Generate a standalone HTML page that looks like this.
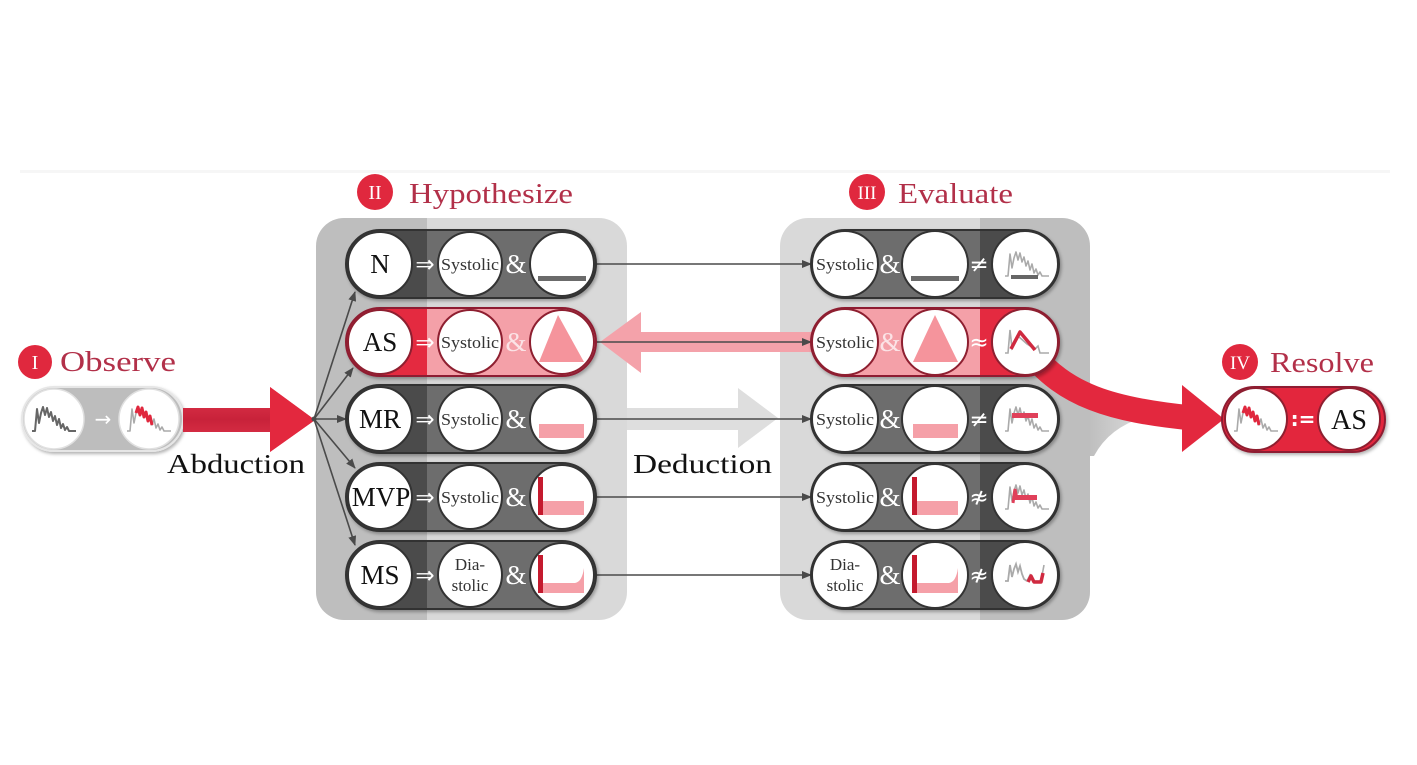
<!DOCTYPE html>
<html><head><meta charset="utf-8">
<style>
html,body{margin:0;padding:0;background:#fff;}
svg{display:block}
text{font-family:"Liberation Serif","DejaVu Serif",serif;}
.sym{font-family:"DejaVu Sans","Liberation Sans",sans-serif;}
</style></head><body>
<svg width="1417" height="765" viewBox="0 0 1417 765" xmlns="http://www.w3.org/2000/svg">
<defs>
<linearGradient id="panII" gradientUnits="userSpaceOnUse" x1="0" y1="0" x2="1417" y2="0">
<stop offset="0" stop-color="#bebebe"/><stop offset="0.3013" stop-color="#bebebe"/><stop offset="0.3013" stop-color="#d9d9d9"/><stop offset="1" stop-color="#d9d9d9"/>
</linearGradient>
<linearGradient id="pillII" gradientUnits="userSpaceOnUse" x1="0" y1="0" x2="1417" y2="0">
<stop offset="0" stop-color="#4b4b4b"/><stop offset="0.3013" stop-color="#4b4b4b"/><stop offset="0.3013" stop-color="#6d6d6d"/><stop offset="1" stop-color="#6d6d6d"/>
</linearGradient>
<linearGradient id="pillIIas" gradientUnits="userSpaceOnUse" x1="0" y1="0" x2="1417" y2="0">
<stop offset="0" stop-color="#e42a40"/><stop offset="0.3013" stop-color="#e42a40"/><stop offset="0.3013" stop-color="#f4a0a8"/><stop offset="1" stop-color="#f4a0a8"/>
</linearGradient>
<linearGradient id="panIII" gradientUnits="userSpaceOnUse" x1="0" y1="0" x2="1417" y2="0">
<stop offset="0" stop-color="#d9d9d9"/><stop offset="0.6916" stop-color="#d9d9d9"/><stop offset="0.6916" stop-color="#bebebe"/><stop offset="1" stop-color="#bebebe"/>
</linearGradient>
<linearGradient id="pillIII" gradientUnits="userSpaceOnUse" x1="0" y1="0" x2="1417" y2="0">
<stop offset="0" stop-color="#6d6d6d"/><stop offset="0.6916" stop-color="#6d6d6d"/><stop offset="0.6916" stop-color="#4b4b4b"/><stop offset="1" stop-color="#4b4b4b"/>
</linearGradient>
<linearGradient id="pillIIIas" gradientUnits="userSpaceOnUse" x1="0" y1="0" x2="1417" y2="0">
<stop offset="0" stop-color="#f4a0a8"/><stop offset="0.6916" stop-color="#f4a0a8"/><stop offset="0.6916" stop-color="#e42a40"/><stop offset="1" stop-color="#e42a40"/>
</linearGradient>
<linearGradient id="abd" x1="0" y1="0" x2="0" y2="1">
<stop offset="0" stop-color="#e6394e"/><stop offset="0.5" stop-color="#c8223a"/><stop offset="1" stop-color="#e6394e"/>
</linearGradient>
<linearGradient id="wedge" gradientUnits="userSpaceOnUse" x1="1088" y1="0" x2="1165" y2="0">
<stop offset="0" stop-color="#bebebe"/><stop offset="0.5" stop-color="#d2d2d2"/><stop offset="1" stop-color="#ffffff"/>
</linearGradient>
<filter id="sh" x="-10%" y="-20%" width="130%" height="150%">
<feDropShadow dx="1.5" dy="2" stdDeviation="1.5" flood-color="#000" flood-opacity="0.3"/>
</filter>
<marker id="m" markerWidth="10" markerHeight="8" refX="9" refY="4" orient="auto" markerUnits="userSpaceOnUse">
<path d="M0,0 L10,4 L0,8 z" fill="#4a4a4a"/>
</marker>
<path id="wave" d="M-22,12 L-19,12 L-17,-10 L-15,4 L-13,-6 L-11,-12 L-9,-4 L-7,-11 L-5,-2 L-3,-7 L-1,2 L1,-3 L3,6 L5,0 L7,9 L9,5 L11,11 L13,8 L15,12 L22,12" fill="none" stroke-linejoin="round"/>
<path id="redmid" d="M-13,-6 L-11,-12 L-9,-4 L-7,-11 L-5,-2 L-3,-7 L-1,2 L1,-3 L3,6" fill="none" stroke-linejoin="round"/>
</defs>

<!-- faint top band -->
<rect x="20" y="170" width="1370" height="3" fill="#f6f6f6"/>

<!-- Panels -->
<rect x="316" y="218" width="311" height="402" rx="28" fill="url(#panII)"/>
<path d="M1086,382 L1158,414 Q1112,422 1094,456 L1086,456 Z" fill="url(#wedge)"/>
<rect x="780" y="218" width="310" height="402" rx="28" fill="url(#panIII)"/>

<!-- Deduction arrow -->
<polygon points="627,408 738,408 738,388 778,418 738,448 738,430 627,430" fill="#dedede"/>

<!-- Pink back arrow -->
<polygon points="600,342 641,312 641,332 812,332 812,352 641,352 641,373" fill="#f4a2aa"/>

<!-- Headers -->
<circle cx="35" cy="362" r="17" fill="#e0283e"/>
<text x="35" y="369" font-size="20" fill="#fff" text-anchor="middle">I</text>
<text x="60" y="371" font-size="28" fill="#b23049" textLength="116" lengthAdjust="spacingAndGlyphs">Observe</text>

<circle cx="375" cy="192" r="18" fill="#e0283e"/>
<text x="375" y="199" font-size="20" fill="#fff" text-anchor="middle">II</text>
<text x="409" y="203" font-size="28" fill="#b23049" textLength="164" lengthAdjust="spacingAndGlyphs">Hypothesize</text>

<circle cx="867" cy="192" r="18" fill="#e0283e"/>
<text x="867" y="199" font-size="19" fill="#fff" text-anchor="middle">III</text>
<text x="898" y="203" font-size="28" fill="#b23049" textLength="115" lengthAdjust="spacingAndGlyphs">Evaluate</text>

<circle cx="1240" cy="362" r="18" fill="#e0283e"/>
<text x="1240" y="369" font-size="19" fill="#fff" text-anchor="middle">IV</text>
<text x="1270" y="372" font-size="28" fill="#b23049" textLength="104" lengthAdjust="spacingAndGlyphs">Resolve</text>

<!-- Observe pill -->
<rect x="22" y="387" width="161" height="64" rx="32" fill="#bdbdbd" stroke="#e6e6e6" stroke-width="2" filter="url(#sh)"/>
<circle cx="54" cy="419" r="30" fill="#fff" stroke="#e0e0e0" stroke-width="1.5"/>
<circle cx="149" cy="419" r="30" fill="#fff" stroke="#e0e0e0" stroke-width="1.5"/>
<g transform="translate(54,419)"><use href="#wave" stroke="#666" stroke-width="2"/></g>
<g transform="translate(149,419)"><use href="#wave" stroke="#aaa" stroke-width="1.6"/><use href="#redmid" stroke="#e0283e" stroke-width="3"/></g>
<text x="103" y="426" font-size="20" fill="#fff" text-anchor="middle" class="sym">→</text>

<!-- Abduction arrow -->
<polygon points="183,408 270,408 270,387 315,420 270,452 270,432 183,432" fill="url(#abd)"/>
<polygon points="270,387 315,420 270,452" fill="#e3283e"/>
<text x="167" y="473" font-size="27" fill="#111" textLength="138" lengthAdjust="spacingAndGlyphs">Abduction</text>
<text x="633" y="473" font-size="27" fill="#111" textLength="139" lengthAdjust="spacingAndGlyphs">Deduction</text>

<!-- Fan arrows -->
<g stroke="#4a4a4a" stroke-width="1.6" fill="none" marker-end="url(#m)">
<line x1="314" y1="419" x2="355" y2="292"/>
<line x1="314" y1="419" x2="353" y2="368"/>
<line x1="314" y1="419" x2="346" y2="419"/>
<line x1="314" y1="419" x2="355" y2="468"/>
<line x1="314" y1="419" x2="355" y2="545"/>
</g>
<circle cx="314" cy="419" r="2.5" fill="#4a4a4a"/>

<!-- Connectors between panels -->
<g stroke="#4a4a4a" stroke-width="1.6" fill="none" marker-end="url(#m)">
<line x1="596" y1="264" x2="811" y2="264"/>
<line x1="596" y1="342" x2="811" y2="342"/>
<line x1="596" y1="419" x2="811" y2="419"/>
<line x1="596" y1="497" x2="811" y2="497"/>
<line x1="596" y1="575" x2="811" y2="575"/>
</g>

<!-- Curved red arrow (behind III pills) -->
<path d="M1030,352 C1065,395 1110,410 1192,418" fill="none" stroke="#e3283e" stroke-width="25"/>
<polygon points="1182,385 1224,419 1182,452" fill="#e3283e"/>

<!-- ===== Hypothesize rows ===== -->
<!-- N -->
<rect x="346" y="230" width="250" height="68" rx="34" fill="url(#pillII)" stroke="#333" stroke-width="2" filter="url(#sh)"/>
<circle cx="380" cy="264" r="32" fill="#fff" stroke="#333" stroke-width="2"/>
<circle cx="470" cy="264" r="32" fill="#fff" stroke="#333" stroke-width="2"/>
<circle cx="562" cy="264" r="32" fill="#fff" stroke="#333" stroke-width="2"/>
<text x="380" y="273" font-size="27" text-anchor="middle" fill="#111">N</text>
<text x="425" y="272" font-size="23" fill="#fff" text-anchor="middle" class="sym">⇒</text>
<text x="441" y="270" font-size="17" fill="#333" textLength="58" lengthAdjust="spacingAndGlyphs">Systolic</text>
<text x="516" y="273" font-size="27" fill="#fff" text-anchor="middle">&amp;</text>
<rect x="538" y="276" width="48" height="5" fill="#6b6b6b"/>

<!-- AS -->
<rect x="346" y="308" width="250" height="68" rx="34" fill="url(#pillIIas)" stroke="#8e1f30" stroke-width="2" filter="url(#sh)"/>
<circle cx="380" cy="342" r="32" fill="#fff" stroke="#8e1f30" stroke-width="2"/>
<circle cx="470" cy="342" r="32" fill="#fff" stroke="#8e1f30" stroke-width="2"/>
<circle cx="562" cy="342" r="32" fill="#fff" stroke="#8e1f30" stroke-width="2"/>
<text x="380" y="351" font-size="27" text-anchor="middle" fill="#111">AS</text>
<text x="425" y="350" font-size="23" fill="#fff" text-anchor="middle" class="sym">⇒</text>
<text x="441" y="348" font-size="17" fill="#333" textLength="58" lengthAdjust="spacingAndGlyphs">Systolic</text>
<text x="516" y="351" font-size="27" fill="#fbe3e6" text-anchor="middle">&amp;</text>
<polygon points="558,315 539,362 584,362" fill="#f5949c"/>

<!-- MR -->
<rect x="346" y="385" width="250" height="68" rx="34" fill="url(#pillII)" stroke="#333" stroke-width="2" filter="url(#sh)"/>
<circle cx="380" cy="419" r="32" fill="#fff" stroke="#333" stroke-width="2"/>
<circle cx="470" cy="419" r="32" fill="#fff" stroke="#333" stroke-width="2"/>
<circle cx="562" cy="419" r="32" fill="#fff" stroke="#333" stroke-width="2"/>
<text x="380" y="428" font-size="27" text-anchor="middle" fill="#111">MR</text>
<text x="425" y="427" font-size="23" fill="#fff" text-anchor="middle" class="sym">⇒</text>
<text x="441" y="425" font-size="17" fill="#333" textLength="58" lengthAdjust="spacingAndGlyphs">Systolic</text>
<text x="516" y="428" font-size="27" fill="#fff" text-anchor="middle">&amp;</text>
<rect x="539" y="424" width="45" height="14" fill="#f5a0a8"/>

<!-- MVP -->
<rect x="346" y="463" width="250" height="68" rx="34" fill="url(#pillII)" stroke="#333" stroke-width="2" filter="url(#sh)"/>
<circle cx="380" cy="497" r="32" fill="#fff" stroke="#333" stroke-width="2"/>
<circle cx="470" cy="497" r="32" fill="#fff" stroke="#333" stroke-width="2"/>
<circle cx="562" cy="497" r="32" fill="#fff" stroke="#333" stroke-width="2"/>
<text x="381" y="506" font-size="27" text-anchor="middle" fill="#111">MVP</text>
<text x="425" y="505" font-size="23" fill="#fff" text-anchor="middle" class="sym">⇒</text>
<text x="441" y="503" font-size="17" fill="#333" textLength="58" lengthAdjust="spacingAndGlyphs">Systolic</text>
<text x="516" y="506" font-size="27" fill="#fff" text-anchor="middle">&amp;</text>
<rect x="540" y="501" width="44" height="14" fill="#f5a0a8"/>
<rect x="538" y="477" width="5" height="38" fill="#c41a2e"/>

<!-- MS -->
<rect x="346" y="541" width="250" height="68" rx="34" fill="url(#pillII)" stroke="#333" stroke-width="2" filter="url(#sh)"/>
<circle cx="380" cy="575" r="32" fill="#fff" stroke="#333" stroke-width="2"/>
<circle cx="470" cy="575" r="32" fill="#fff" stroke="#333" stroke-width="2"/>
<circle cx="562" cy="575" r="32" fill="#fff" stroke="#333" stroke-width="2"/>
<text x="380" y="584" font-size="27" text-anchor="middle" fill="#111">MS</text>
<text x="425" y="583" font-size="23" fill="#fff" text-anchor="middle" class="sym">⇒</text>
<text x="470" y="570" font-size="17" fill="#333" text-anchor="middle">Dia-</text>
<text x="470" y="591" font-size="17" fill="#333" text-anchor="middle">stolic</text>
<text x="516" y="584" font-size="27" fill="#fff" text-anchor="middle">&amp;</text>
<path d="M540,583 L575,583 Q582,582 584,568 L584,593 L540,593 Z" fill="#f5a0a8"/>
<rect x="538" y="555" width="5" height="38" fill="#c41a2e"/>

<!-- ===== Evaluate rows ===== -->
<!-- N -->
<rect x="811" y="230" width="248" height="68" rx="34" fill="url(#pillIII)" stroke="#333" stroke-width="2" filter="url(#sh)"/>
<circle cx="845" cy="264" r="33" fill="#fff" stroke="#333" stroke-width="2"/>
<circle cx="935" cy="264" r="33" fill="#fff" stroke="#333" stroke-width="2"/>
<circle cx="1025" cy="264" r="33" fill="#fff" stroke="#333" stroke-width="2"/>
<text x="816" y="270" font-size="17" fill="#333" textLength="58" lengthAdjust="spacingAndGlyphs">Systolic</text>
<text x="890" y="273" font-size="27" fill="#fff" text-anchor="middle">&amp;</text>
<rect x="911" y="276" width="48" height="5" fill="#6b6b6b"/>
<text x="979" y="272" font-size="23" fill="#fff" text-anchor="middle" class="sym">≠</text>
<g transform="translate(1027,264)"><use href="#wave" stroke="#aaa" stroke-width="1.6"/><rect x="-16" y="11" width="27" height="4" fill="#666"/></g>

<!-- AS -->
<rect x="811" y="308" width="248" height="68" rx="34" fill="url(#pillIIIas)" stroke="#8e1f30" stroke-width="2" filter="url(#sh)"/>
<circle cx="845" cy="342" r="33" fill="#fff" stroke="#8e1f30" stroke-width="2"/>
<circle cx="935" cy="342" r="33" fill="#fff" stroke="#8e1f30" stroke-width="2"/>
<circle cx="1025" cy="342" r="33" fill="#fff" stroke="#8e1f30" stroke-width="2"/>
<text x="816" y="348" font-size="17" fill="#333" textLength="58" lengthAdjust="spacingAndGlyphs">Systolic</text>
<text x="890" y="351" font-size="27" fill="#fbe3e6" text-anchor="middle">&amp;</text>
<polygon points="935,315 913,362 958,362" fill="#f5949c"/>
<text x="979" y="350" font-size="23" fill="#fff" text-anchor="middle" class="sym">≈</text>
<g transform="translate(1027,342)">
<path d="M-22,11 L-19,11 L-17,-12 L-15,6 L-9,-6 L0,2 L8,7 L11,4 L13,11 L22,11" fill="none" stroke="#aaa" stroke-width="1.6"/>
<path d="M-16,7 L-7,-10 L8,8" fill="none" stroke="#cf2a40" stroke-width="3.5" stroke-linejoin="round"/>
</g>

<!-- MR -->
<rect x="811" y="385" width="248" height="68" rx="34" fill="url(#pillIII)" stroke="#333" stroke-width="2" filter="url(#sh)"/>
<circle cx="845" cy="419" r="33" fill="#fff" stroke="#333" stroke-width="2"/>
<circle cx="935" cy="419" r="33" fill="#fff" stroke="#333" stroke-width="2"/>
<circle cx="1025" cy="419" r="33" fill="#fff" stroke="#333" stroke-width="2"/>
<text x="816" y="425" font-size="17" fill="#333" textLength="58" lengthAdjust="spacingAndGlyphs">Systolic</text>
<text x="890" y="428" font-size="27" fill="#fff" text-anchor="middle">&amp;</text>
<rect x="913" y="424" width="45" height="14" fill="#f5a0a8"/>
<text x="979" y="427" font-size="23" fill="#fff" text-anchor="middle" class="sym">≠</text>
<g transform="translate(1027,419)"><use href="#wave" stroke="#aaa" stroke-width="1.6"/><rect x="-15" y="-6" width="26" height="5" fill="#e0405a"/></g>

<!-- MVP -->
<rect x="811" y="463" width="248" height="68" rx="34" fill="url(#pillIII)" stroke="#333" stroke-width="2" filter="url(#sh)"/>
<circle cx="845" cy="497" r="33" fill="#fff" stroke="#333" stroke-width="2"/>
<circle cx="935" cy="497" r="33" fill="#fff" stroke="#333" stroke-width="2"/>
<circle cx="1025" cy="497" r="33" fill="#fff" stroke="#333" stroke-width="2"/>
<text x="816" y="503" font-size="17" fill="#333" textLength="58" lengthAdjust="spacingAndGlyphs">Systolic</text>
<text x="890" y="506" font-size="27" fill="#fff" text-anchor="middle">&amp;</text>
<rect x="914" y="501" width="44" height="14" fill="#f5a0a8"/>
<rect x="912" y="477" width="5" height="38" fill="#c41a2e"/>
<text x="979" y="505" font-size="23" fill="#fff" text-anchor="middle" class="sym">≉</text>
<g transform="translate(1027,497)"><use href="#wave" stroke="#aaa" stroke-width="1.6"/><path d="M-14,6 L-12,-8 L-10,2" fill="none" stroke="#e0405a" stroke-width="3"/><rect x="-12" y="-2" width="22" height="5" fill="#e0405a"/></g>

<!-- MS -->
<rect x="811" y="541" width="248" height="68" rx="34" fill="url(#pillIII)" stroke="#333" stroke-width="2" filter="url(#sh)"/>
<circle cx="845" cy="575" r="33" fill="#fff" stroke="#333" stroke-width="2"/>
<circle cx="935" cy="575" r="33" fill="#fff" stroke="#333" stroke-width="2"/>
<circle cx="1025" cy="575" r="33" fill="#fff" stroke="#333" stroke-width="2"/>
<text x="845" y="570" font-size="17" fill="#333" text-anchor="middle">Dia-</text>
<text x="845" y="591" font-size="17" fill="#333" text-anchor="middle">stolic</text>
<text x="890" y="584" font-size="27" fill="#fff" text-anchor="middle">&amp;</text>
<path d="M914,583 L949,583 Q956,582 958,568 L958,593 L914,593 Z" fill="#f5a0a8"/>
<rect x="912" y="555" width="5" height="38" fill="#c41a2e"/>
<text x="979" y="583" font-size="23" fill="#fff" text-anchor="middle" class="sym">≉</text>
<g transform="translate(1027,575)">
<path d="M-22,6 L-19,6 L-17,-10 L-15,2 L-13,-6 L-11,-11 L-9,-3 L-7,-9 L-5,-1 L-3,4 L0,6" fill="none" stroke="#aaa" stroke-width="1.8"/>
<path d="M0,6 L3,0 L6,6 L14,6 L17,-10" fill="none" stroke="#aaa" stroke-width="1.6"/>
<path d="M1,7 L4,1 L7,7 L14,7 L16,-2" fill="none" stroke="#d02a40" stroke-width="3.5" stroke-linejoin="round"/>
</g>

<!-- Resolve pill -->
<rect x="1222" y="387" width="163" height="65" rx="32.5" fill="#e3283e" stroke="#8e1f30" stroke-width="2" filter="url(#sh)"/>
<circle cx="1256" cy="419" r="31" fill="#fff" stroke="#8e1f30" stroke-width="2"/>
<circle cx="1349" cy="419" r="31" fill="#fff" stroke="#8e1f30" stroke-width="2"/>
<g transform="translate(1256,419)"><use href="#wave" stroke="#aaa" stroke-width="1.6"/><use href="#redmid" stroke="#e0283e" stroke-width="3"/></g>
<text x="1303" y="426" font-size="20" font-weight="bold" fill="#fff" text-anchor="middle" class="sym">:=</text>
<text x="1349" y="429" font-size="28" text-anchor="middle" fill="#111">AS</text>
</svg>
</body></html>
